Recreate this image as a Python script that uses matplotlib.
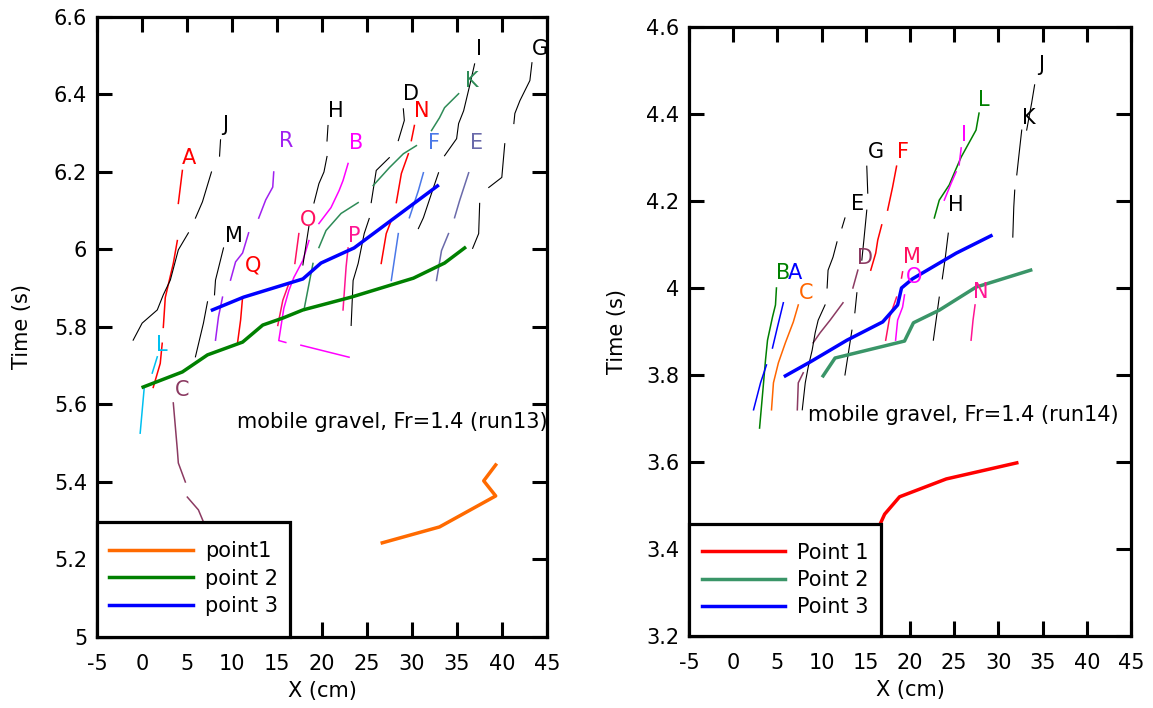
import numpy as np
import matplotlib
matplotlib.use("Agg")
import matplotlib.pyplot as plt
from matplotlib.patches import Rectangle
from matplotlib.ticker import FuncFormatter, MultipleLocator

plt.rcParams["font.family"] = ["DejaVu Sans"]
plt.rcParams["axes.unicode_minus"] = False

gap = np.nan

# ---------------- run13 (left panel) ----------------
run13_p1_x = [26.7, 33.06, 39.3, 37.97, 39.3]
run13_p1_t = [5.243, 5.284, 5.364, 5.403, 5.444]
run13_p2_x = [0.13, 4.49, 7.28, 11.18, 13.42, 15.65, 17.88, 23.24, 30.16, 33.62, 35.85]
run13_p2_t = [5.645, 5.684, 5.728, 5.761, 5.805, 5.823, 5.844, 5.877, 5.926, 5.965, 6.004]
run13_p3_x = [7.83, 11.29, 17.88, 19.89, 23.57, 32.83]
run13_p3_t = [5.844, 5.877, 5.924, 5.965, 6.004, 6.164]

run13_names = ["A", "J", "M", "L", "C", "R", "Q", "O", "B", "P", "H", "D", "N",
               "K", "I", "G", "F", "E"]
run13_x = [
    [4.49, 4.04, gap, 3.93, 3.48, 2.59, 2.37, gap, 2.25, 2.03, 1.25],
    [8.73, 8.62, gap, 7.72, 6.72, 5.94, gap, 5.16, 4.04, 3.15, 2.37, 1.70, 0.02, -0.98],
    [9.06, 8.17, 8.06, gap, 7.28, 6.83, 5.94],
    [1.70, 1.14, gap, 0.25, -0.20],
    [3.48, 3.93, 4.04, 4.82, gap, 5.04, 6.27, 6.83, 7.20],
    [14.64, 14.53, 13.75, 12.97, gap, 11.85, 11.18, 10.40, 9.84, gap, 8.95, 8.50, 8.17],
    [11.18, 10.96, 10.63],
    [17.43, 16.99, gap, 16.32, 15.65, 15.09],
    [22.90, 22.34, 21.90, 21.00, 19.66, gap, 18.55, 17.88, 16.88, 16.32, 15.76, 15.20,
     15.98, gap, 17.66, 23.01],
    [22.90, 22.68, 22.34],
    [20.67, 20.56, gap, 20.56, 20.22, 19.66, 19.11, gap, 18.55, 17.88],
    [29.04, 29.15, 28.48, gap, 27.48, 26.03, 25.80, 25.47, gap, 25.25, 24.69, 24.02,
     23.46, 23.24],
    [30.27, 29.93, gap, 29.60, 28.82, 28.26, gap, 27.70, 27.14, 26.58],
    [35.18, 33.62, 33.06, 32.17, gap, 30.49, 29.04, 27.48, 25.69, gap, 24.02, 22.12,
     20.45, 19.66, gap, 19.00, 17.99],
    [36.96, 36.41, 35.74, 35.18, 34.96, 33.62, gap, 32.95, 32.39, 31.27, 30.71],
    [43.33, 43.10, 41.99, 41.43, 41.32, gap, 40.31, 39.98, 38.53, gap, 37.52, 37.41,
     36.74],
    [31.27, 30.71, 29.71, gap, 28.48, 27.70],
    [36.30, 35.29, 34.73, gap, 34.06, 33.28, 32.72],
]
run13_t = [
    [6.204, 6.119, gap, 6.023, 5.964, 5.876, 5.799, gap, 5.758, 5.706, 5.644],
    [6.283, 6.241, gap, 6.20, 6.123, 6.081, gap, 6.043, 5.999, 5.921, 5.883, 5.844,
     5.81, 5.766],
    [6.004, 5.921, 5.883, gap, 5.865, 5.81, 5.723],
    [5.723, 5.681, gap, 5.643, 5.526],
    [5.604, 5.483, 5.449, 5.40, gap, 5.361, 5.328, 5.297, 5.263],
    [6.20, 6.161, 6.128, 6.081, gap, 6.043, 5.991, 5.968, 5.921, gap, 5.877, 5.826, 5.766],
    [5.877, 5.818, 5.761],
    [6.041, 5.964, gap, 5.912, 5.869, 5.804],
    [6.222, 6.178, 6.152, 6.108, 6.067, gap, 6.023, 5.972, 5.928, 5.894, 5.848, 5.765,
     5.76, gap, 5.753, 5.722],
    [6.004, 5.955, 5.844],
    [6.32, 6.28, gap, 6.24, 6.20, 6.17, 6.12, gap, 6.06, 5.96],
    [6.363, 6.333, 6.281, gap, 6.237, 6.204, 6.17, 6.121, gap, 6.08, 6.041, 5.964,
     5.92, 5.804],
    [6.32, 6.281, gap, 6.247, 6.196, 6.121, gap, 6.075, 6.041, 5.964],
    [6.402, 6.366, 6.34, 6.307, gap, 6.268, 6.247, 6.211, 6.165, gap, 6.121, 6.093,
     6.049, 6.005, gap, 5.964, 5.843],
    [6.479, 6.423, 6.358, 6.325, 6.286, 6.242, gap, 6.198, 6.16, 6.082, 6.054],
    [6.482, 6.436, 6.384, 6.351, 6.325, gap, 6.273, 6.186, 6.16, gap, 6.119, 6.041,
     6.003],
    [6.198, 6.152, 6.082, gap, 6.041, 5.92],
    [6.198, 6.126, 6.082, gap, 6.041, 5.997, 5.92],
]
run13_label_x = [5.27, 9.29, 10.18, 2.25, 4.49, 15.98, 12.3, 18.44, 23.79, 23.57,
                 21.56, 29.93, 31.05, 36.63, 37.41, 44.22, 32.5, 37.19]
run13_label_t = [6.237, 6.32, 6.036, 5.753, 5.637, 6.281, 5.959, 6.075, 6.276, 6.036,
                 6.358, 6.402, 6.358, 6.436, 6.518, 6.518, 6.276, 6.276]
run13_colors = ["#ff0000", "black", "black", "#00c0f0", "#8b3a62", "#a020f0", "#ff0000",
                "#ff1060", "#ff00ff", "#ff1493", "black", "black", "#ff0000", "#2e8b57",
                "black", "black", "#4a78e8", "#6a6aaa"]

# ---------------- run14 (right panel) ----------------
run14_p1_x = [16.3, 16.57, 17.13, 18.82, 24.1, 32.08]
run14_p1_t = [3.43, 3.455, 3.48, 3.52, 3.561, 3.598]
run14_p2_x = [10.17, 11.52, 19.38, 20.39, 23.31, 27.47, 33.65]
run14_p2_t = [3.798, 3.839, 3.878, 3.92, 3.949, 4.002, 4.041]
run14_p3_x = [5.9, 8.71, 12.87, 16.91, 18.6, 19.04, 20.28, 25.22, 29.16]
run14_p3_t = [3.798, 3.83, 3.88, 3.922, 3.961, 4.0, 4.021, 4.08, 4.12]

run14_names = ["B", "A", "C", "D", "G", "E", "", "F", "M", "O", "H", "N", "L", "I",
               "J", "K"]
run14_x = [
    [4.89, 4.78, 4.44, 3.88, 3.65, 3.43, 2.98],
    [5.67, 5.0, 4.44, gap, 3.76, 3.09, 2.3],
    [7.36, 6.8, 5.9, 5.11, 4.55, 4.33],
    [14.1, 13.54, gap, 12.42, 10.96, 9.83, 9.04, gap, 7.92, 7.36, 7.25],
    [15.11, 15.22],
    [15.11, 14.78, 14.55, gap, 13.99, 13.76, gap, 13.43, 12.64],
    [12.64, 12.3, gap, 11.74, 11.29, 10.73, 10.62, gap, 10.39, 9.61, 9.27, 8.93, 8.48,
     8.15, 7.81],
    [18.48, 18.03, 17.47, gap, 16.8, 16.35, 16.12, 15.56],
    [19.16, 19.04, gap, 18.48, 17.7, 17.25],
    [19.38, 19.16, 18.6, 18.37],
    [24.33, 24.0, 23.65, gap, 23.31, 22.64],
    [27.36, 27.13, 26.91],
    [27.81, 27.47, 25.79, 25.0, 24.44, 23.31, 22.75],
    [25.79, 25.56, gap, 25.22, 24.66, 23.88],
    [34.1, 33.76, 33.2],
    [32.64, 32.3, 32.08, gap, 31.85, 31.74, 31.63],
]
run14_t = [
    [4.0, 3.961, 3.933, 3.88, 3.834, 3.782, 3.678],
    [3.966, 3.91, 3.862, gap, 3.823, 3.782, 3.72],
    [3.961, 3.922, 3.874, 3.828, 3.782, 3.72],
    [4.041, 4.0, gap, 3.966, 3.926, 3.897, 3.874, gap, 3.805, 3.782, 3.72],
    [4.28, 4.218],
    [4.179, 4.11, 4.064, gap, 3.989, 3.943, gap, 3.903, 3.8],
    [4.161, 4.138, gap, 4.106, 4.071, 4.041, 4.0, gap, 3.961, 3.926, 3.897, 3.857,
     3.818, 3.782, 3.72],
    [4.28, 4.232, 4.179, gap, 4.145, 4.11, 4.08, 4.041],
    [4.037, 4.023, gap, 3.979, 3.933, 3.88],
    [3.984, 3.956, 3.926, 3.88],
    [4.126, 4.071, 4.021, gap, 3.979, 3.88],
    [3.961, 3.926, 3.88],
    [4.402, 4.363, 4.301, 4.264, 4.237, 4.202, 4.161],
    [4.322, 4.283, gap, 4.267, 4.241, 4.202],
    [4.467, 4.425, 4.363],
    [4.363, 4.301, 4.26, gap, 4.225, 4.186, 4.117],
]
run14_label_x = [5.67, 7.02, 8.26, 14.89, 16.12, 14.1, 0, 19.16, 20.17, 20.51, 25.22,
                 28.03, 28.37, 26.12, 34.89, 33.43]
run14_label_t = [4.034, 4.034, 3.989, 4.069, 4.313, 4.193, 0, 4.313, 4.072, 4.026, 4.191,
                 3.991, 4.432, 4.352, 4.513, 4.391]
run14_colors = ["#008000", "#0000ff", "#ff6600", "#8b3a62", "black", "black", "black",
                "#ff0000", "#ff1060", "#ff00ff", "black", "#ff1493", "#008000", "#ff00ff",
                "black", "black"]

x_ticks = [-5, 0, 5, 10, 15, 20, 25, 30, 35, 40, 45]

fig = plt.figure(figsize=(11.53, 7.08), dpi=100)
ax1 = fig.add_axes([0.0841, 0.1003, 0.3903, 0.8757])
ax2 = fig.add_axes([0.5976, 0.1017, 0.3833, 0.8602])


def style_axes(ax, ylim, ystep, ylabelpad):
    ax.set_xlim(-5, 45)
    ax.set_ylim(*ylim)
    ax.set_xticks(x_ticks)
    ax.yaxis.set_major_locator(MultipleLocator(ystep))
    ax.yaxis.set_major_formatter(FuncFormatter(lambda v, p: "%g" % round(v, 3)))
    for s in ax.spines.values():
        s.set_linewidth(2.3)
    ax.tick_params(direction="in", length=11, width=2.2, top=True, right=True,
                   labelsize=15)
    ax.tick_params(axis="x", pad=12)
    ax.tick_params(axis="y", pad=7)
    ax.set_xlabel("X (cm)", fontsize=15, labelpad=5)
    ax.set_ylabel("Time (s)", fontsize=15, labelpad=ylabelpad)


def draw_traces(ax, xs, ts, names, lx, lt, colors):
    for i in range(len(xs)):
        lw = 0.8 if colors[i] == "black" else 1.1
        ax.plot(xs[i], ts[i], color=colors[i], lw=lw)
        if names[i]:
            ax.text(lx[i], lt[i], names[i], color=colors[i], fontsize=15,
                    ha="center", va="center")


def boxed_legend(ax, box_w, box_h, center_y):
    # white framed box in the lower-left corner, legend entries placed inside it
    ax.add_patch(Rectangle((0, 0), box_w, box_h, transform=ax.transAxes,
                           facecolor="white", edgecolor="black", lw=2.3,
                           zorder=4.5, clip_on=False))
    leg = ax.legend(loc="center left", bbox_to_anchor=(0, center_y), fontsize=15,
                    frameon=False, borderaxespad=0, handlelength=4.0,
                    handletextpad=0.6, labelspacing=0.35, borderpad=0.6)
    leg.set_zorder(5)


# left panel
draw_traces(ax1, run13_x, run13_t, run13_names, run13_label_x, run13_label_t,
            run13_colors)
ax1.plot(run13_p1_x, run13_p1_t, color="#ff6a00", lw=2.5, label="point1")
ax1.plot(run13_p2_x, run13_p2_t, color="#008000", lw=2.5, label="point 2")
ax1.plot(run13_p3_x, run13_p3_t, color="#0000ff", lw=2.5, label="point 3")
ax1.text(10.6, 5.554, "mobile gravel, Fr=1.4 (run13)", fontsize=15, va="center")
style_axes(ax1, (5, 6.6), 0.2, 16)
boxed_legend(ax1, 0.429, 0.1855, 0.094)

# right panel
draw_traces(ax2, run14_x, run14_t, run14_names, run14_label_x, run14_label_t,
            run14_colors)
ax2.plot(run14_p1_x, run14_p1_t, color="#ff0000", lw=2.5, label="Point 1")
ax2.plot(run14_p2_x, run14_p2_t, color="#3a9568", lw=2.5, label="Point 2")
ax2.plot(run14_p3_x, run14_p3_t, color="#0000ff", lw=2.5, label="Point 3")
ax2.text(8.48, 3.708, "mobile gravel, Fr=1.4 (run14)", fontsize=15, va="center")
style_axes(ax2, (3.2, 4.6), 0.2, 14)
boxed_legend(ax2, 0.434, 0.184, 0.092)

fig.savefig("out.png", dpi=100)
